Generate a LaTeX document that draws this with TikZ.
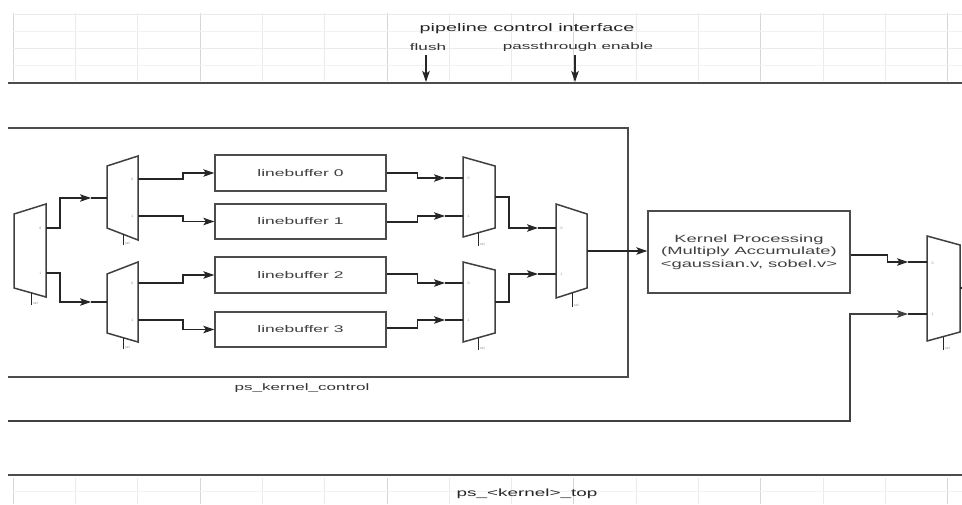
\documentclass[tikz,border=0pt]{standalone}
\usepackage{fontspec}
\setmainfont{Liberation Sans}
\usetikzlibrary{arrows.meta}
\newcommand{\sx}[2][1.8]{\scalebox{#1}[1]{#2}}
\tikzset{
  wire/.style={draw=black!85, line width=1.15pt},
  arr/.style={wire, -{Stealth[length=11pt,width=7.5pt,inset=2.5pt]}},
  muxshape/.style={draw=black!75, line width=1.5pt, line join=miter},
  lbox/.style={draw=black!70, line width=1.4pt, minimum width=171pt, inner sep=0pt,
    font=\fontsize{9.7}{11}\selectfont, text=black!75},
  kbox/.style={draw=black!70, line width=1.4pt, minimum width=202pt, minimum height=82pt,
    inner sep=0pt, align=center, font=\fontsize{10.5}{12.5}\selectfont, text=black!75},
  tinylbl/.style={font=\fontsize{3.5}{4}\selectfont, text=black!45, inner sep=0.5pt},
  heavy/.style={draw=black!70, line width=2.6pt},
  frame/.style={draw=black!70, line width=1.5pt},
  gridmaj/.style={draw=black!16, line width=0.6pt},
  gridmin/.style={draw=black!8, line width=0.5pt},
  lbl/.style={inner sep=0pt, text=black!80},
}
\begin{document}
\begin{tikzpicture}[x=1pt,y=-1pt]
\useasboundingbox (0,0) rectangle (962,504);
% ---------- grids ----------
\foreach \i in {0,...,15}{
  \pgfmathsetmacro{\gx}{13+62.3*\i}
  \pgfmathtruncatemacro{\m}{mod(\i,3)}
  \ifnum\m=0
    \draw[gridmaj] (\gx,13) -- (\gx,81);
    \draw[gridmaj] (\gx,478) -- (\gx,504);
  \else
    \draw[gridmin] (\gx,13) -- (\gx,81);
    \draw[gridmin] (\gx,478) -- (\gx,504);
  \fi
}
\foreach \gy in {14,48}{ \draw[gridmin] (13,\gy) -- (962,\gy); }
\foreach \gy in {31,65}{ \draw[draw=black!5, line width=0.4pt] (13,\gy) -- (962,\gy); }
\draw[draw=black!5, line width=0.4pt] (13,491) -- (962,491);
% ---------- top interface ----------
\draw[heavy] (8,83) -- (962,83);
\node[lbl, font=\fontsize{11}{13}\selectfont, text=black!85] (pci) at (527,29) {\sx{pipeline control interface}};
\node[lbl, font=\fontsize{9.5}{11}\selectfont] (fl) at (428,47) {\sx{flush}};
\node[lbl, font=\fontsize{9.5}{11}\selectfont] (pe) at (578,47) {\sx{passthrough enable}};
\coordinate (flS) at (426,55); \coordinate (flE) at (426,82);
\coordinate (peS) at (575,55); \coordinate (peE) at (575,82);
\draw[arr] (flS) -- (flE);
\draw[arr] (peS) -- (peE);
% ---------- bottom ----------
\draw[heavy] (8,475) -- (962,475);
\node[lbl, font=\fontsize{10.5}{12}\selectfont, text=black!85] (top) at (527,494) {\sx{ps\_<kernel>\_top}};
% ---------- ps_kernel_control frame ----------
\draw[frame] (8,128) -- (628,128) -- (628,377) -- (8,377);
\node[lbl, font=\fontsize{9.5}{11}\selectfont] (kc) at (302,388) {\sx{ps\_kernel\_control}};
% ---------- muxes ----------
\draw[muxshape] (14,214) -- (46,204) -- (46,297) -- (14,288) -- cycle;
\draw[muxshape] (107,166) -- (138,156) -- (138,240) -- (107,228) -- cycle;
\draw[muxshape] (107,274) -- (138,262) -- (138,342) -- (107,333) -- cycle;
\draw[muxshape] (463,157) -- (495,166) -- (495,228) -- (463,237) -- cycle;
\draw[muxshape] (463,262) -- (495,270) -- (495,333) -- (463,342) -- cycle;
\draw[muxshape] (556,204) -- (587,214) -- (587,288) -- (556,298) -- cycle;
\draw[muxshape] (927,236) -- (960,245) -- (960,332) -- (927,341) -- cycle;
% port labels
\foreach \px/\py/\t in {42/228/0,42/273/1,134/179/0,134/216/1,134/283/0,134/320/1}
  \node[tinylbl, anchor=east] at (\px,\py) {\t};
\foreach \px/\py/\t in {467/178/0,467/216/1,467/283/0,467/320/1,560/228/0,560/274/1,931/263/0,931/314/1}
  \node[tinylbl, anchor=west] at (\px,\py) {\t};
% select stubs
\foreach \px/\pa/\pb in {31/292.8/305,123/234.2/245,123/337.6/349,478/232.8/246,478/337.8/350,572/292.8/307,943/336.6/350}{
  \draw[wire, line width=1pt] (\px,\pa) -- (\px,\pb);
  \node[tinylbl, anchor=west] at (\px+1.5,\pb-2) {sel};
}
% ---------- line buffers ----------
\node[lbox, minimum height=36pt] (lb0) at (300.5,173) {\sx{linebuffer 0}};
\node[lbox, minimum height=35pt] (lb1) at (300.5,221.5) {\sx{linebuffer 1}};
\node[lbox, minimum height=36pt] (lb2) at (300.5,275) {\sx{linebuffer 2}};
\node[lbox, minimum height=35pt] (lb3) at (300.5,329.5) {\sx{linebuffer 3}};
% ---------- kernel processing ----------
\node[kbox] (kp) at (749,252) {\sx[1.75]{Kernel Processing}\\\sx[1.75]{(Multiply Accumulate)}\\\sx[1.75]{<gaussian.v, sobel.v>}};
% ---------- port coordinates ----------
\coordinate (Aout0) at (46,228); \coordinate (Aout1) at (46,273);
\coordinate (Bin) at (91,198);   \coordinate (Bl) at (107,198);
\coordinate (Cin) at (91,302);   \coordinate (Cl) at (107,302);
\coordinate (Bout0) at (138,179); \coordinate (Bout1) at (138,216);
\coordinate (Cout0) at (138,283); \coordinate (Cout1) at (138,320);
\coordinate (Din0) at (445,178); \coordinate (Dl0) at (463,178);
\coordinate (Din1) at (445,216); \coordinate (Dl1) at (463,216);
\coordinate (Ein0) at (445,283); \coordinate (El0) at (463,283);
\coordinate (Ein1) at (445,320); \coordinate (El1) at (463,320);
\coordinate (Dout) at (495,197); \coordinate (Eout) at (495,302);
\coordinate (Fin0) at (538,228); \coordinate (Fl0) at (556,228);
\coordinate (Fin1) at (538,274); \coordinate (Fl1) at (556,274);
\coordinate (Fout) at (587,251);
\coordinate (Gin0) at (908,262); \coordinate (Gl0) at (927,262);
\coordinate (Gin1) at (908,314); \coordinate (Gl1) at (927,314);
\coordinate (Gout) at (960,288); \coordinate (Gr) at (962,288);
\coordinate (bypS) at (8,421);
% ---------- connectors ----------
\draw[arr] (Aout0) -- ++(14,0) |- (Bin);  \draw[wire] (Bin) -- (Bl);
\draw[arr] (Aout1) -- ++(14,0) |- (Cin);  \draw[wire] (Cin) -- (Cl);
\draw[arr] (Bout0) -- ++(45,0) |- (lb0.west);
\draw[arr] (Bout1) -- ++(45,0) |- (lb1.west);
\draw[arr] (Cout0) -- ++(45,0) |- (lb2.west);
\draw[arr] (Cout1) -- ++(45,0) |- (lb3.west);
\draw[arr] (lb0.east) -- ++(30.5,0) |- (Din0); \draw[wire] (Din0) -- (Dl0);
\draw[arr] (lb1.east) ++(0,0.5) -- ++(30.5,0) |- (Din1); \draw[wire] (Din1) -- (Dl1);
\draw[arr] (lb2.east) ++(0,-1) -- ++(30.5,0) |- (Ein0); \draw[wire] (Ein0) -- (El0);
\draw[arr] (lb3.east) ++(0,-1.5) -- ++(30.5,0) |- (Ein1); \draw[wire] (Ein1) -- (El1);
\draw[arr] (Dout) -- ++(14,0) |- (Fin0); \draw[wire] (Fin0) -- (Fl0);
\draw[arr] (Eout) -- ++(14,0) |- (Fin1); \draw[wire] (Fin1) -- (Fl1);
\draw[arr] (Fout) -- (Fout -| kp.west);
\draw[arr] (kp.east) ++(0,3) -- ++(37,0) |- (Gin0); \draw[wire] (Gin0) -- (Gl0);
\draw[arr, draw=black!75, line width=1.4pt] (bypS) -- (850,421) |- (Gin1); \draw[wire] (Gin1) -- (Gl1);
\draw[wire] (Gout) -- (Gr);
\end{tikzpicture}
\end{document}
